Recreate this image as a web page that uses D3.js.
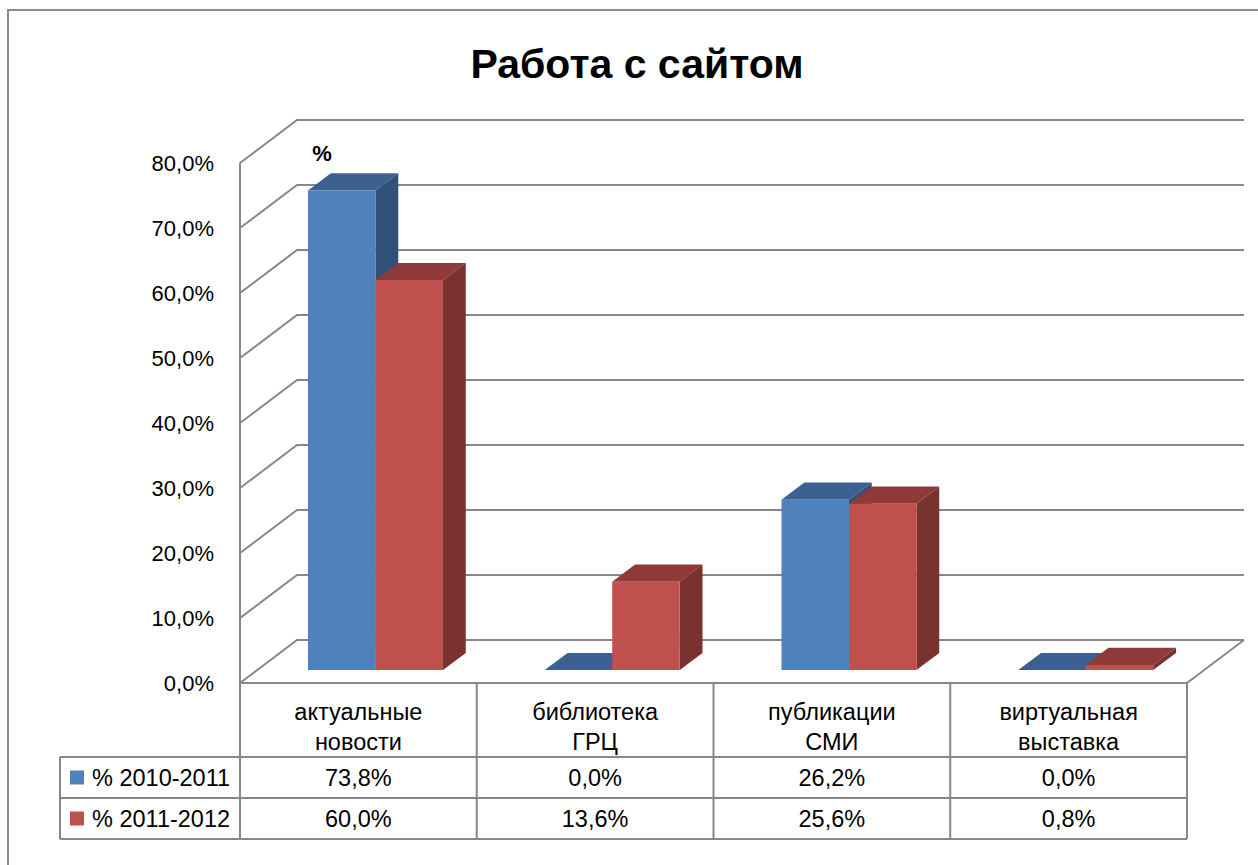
<!DOCTYPE html>
<html>
<head>
<meta charset="utf-8">
<script src="https://cdn.jsdelivr.net/npm/d3@7"></script>
<style>
  html, body { margin: 0; padding: 0; background: #fff; }
  svg { display: block; font-family: "Liberation Sans", Arial, sans-serif; }
</style>
</head>
<body>
<svg id="chart" width="1258" height="865"></svg>
<script>
// ---- data ----
const title = "Работа с сайтом";
const axisTitle = "%";
const categories = ["актуальные новости", "библиотека ГРЦ", "публикации СМИ", "виртуальная выставка"];
const seriesNames = ["% 2010-2011", "% 2011-2012"];
const values2010 = [73.8, 0.0, 26.2, 0.0];
const values2011 = [60.0, 13.6, 25.6, 0.8];
const yTicks = [0, 10, 20, 30, 40, 50, 60, 70, 80];

// ---- layout ----
const svg = d3.select("#chart");
const X0 = 240, X1 = 1187, Y0 = 683;
const DX = 57, DY = -43;           // depth vector of the 3D box
const T0 = 0.30, T1 = 0.70;        // bar depth range
const gridColor = "#878787";
const colors = {
  front: ["#4F81BD", "#C0504D"],
  top:   ["#3C6190", "#8F3A38"],
  side:  ["#325179", "#7A3230"]
};
const fmt = v => d3.format(".1f")(v).replace(".", ",") + "%";

const y = d3.scaleLinear().domain([0, 80]).range([0, 520]);
const x = d3.scaleBand().domain(categories).range([X0, X1]);
const xs = d3.scaleBand().domain(seriesNames).range([0, x.bandwidth()]).paddingOuter(0.754);
const proj = (px, v, t) => [px + t * DX, Y0 - y(v) + t * DY];
const line = d3.line();

// outer border
svg.append("rect").attr("x", 8).attr("y", 10).attr("width", 1300).attr("height", 900)
  .attr("fill", "none").attr("stroke", "#8a8a8a").attr("stroke-width", 2);

// title
svg.append("text").attr("x", 637).attr("y", 78).attr("text-anchor", "middle")
  .attr("font-size", 41).attr("font-weight", "bold").attr("fill", "#000").text(title);

// grid: side wall diagonals and back wall lines
const grid = svg.append("g").attr("fill", "none").attr("stroke", gridColor).attr("stroke-width", 2);
yTicks.forEach(v => {
  grid.append("path").attr("d", line([proj(X0, v, 0), proj(X0, v, 1), proj(X1, v, 1)]));
});
// floor right edge
grid.append("path").attr("d", line([proj(X1, 0, 0), proj(X1, 0, 1)]));
// front vertical axis (continues down through table)
grid.append("path").attr("d", line([proj(X0, 80, 0), [X0, 839]]));

// y tick labels
svg.append("g").selectAll("text").data(yTicks).join("text")
  .attr("x", 214).attr("y", d => Y0 - y(d)).attr("dy", "0.36em")
  .attr("text-anchor", "end").attr("font-size", 22).attr("fill", "#000")
  .text(d => fmt(d));

// axis title
svg.append("text").attr("x", 322).attr("y", 161).attr("text-anchor", "middle")
  .attr("font-size", 22).attr("font-weight", "bold").text(axisTitle);

// bars
const seriesValues = [values2010, values2011];
const bars = svg.append("g");
categories.forEach((c, i) => {
  seriesNames.forEach((s, k) => {
    const v = seriesValues[k][i];
    const xa = x(c) + xs(s), xb = xa + xs.bandwidth();
    const g = bars.append("g");
    g.append("path").attr("fill", colors.top[k])
      .attr("d", line([proj(xa, v, T0), proj(xb, v, T0), proj(xb, v, T1), proj(xa, v, T1)]) + "Z");
    g.append("path").attr("fill", colors.side[k])
      .attr("d", line([proj(xb, 0, T0), proj(xb, 0, T1), proj(xb, v, T1), proj(xb, v, T0)]) + "Z");
    g.append("path").attr("fill", colors.front[k])
      .attr("d", line([proj(xa, 0, T0), proj(xb, 0, T0), proj(xb, v, T0), proj(xa, v, T0)]) + "Z");
  });
});

// data table
const rowY = [683, 757, 798, 839];
const LX = 60;
const tbl = svg.append("g").attr("stroke", gridColor).attr("stroke-width", 2).attr("fill", "none");
tbl.append("path").attr("d", line([[X0, rowY[0]], [X1, rowY[0]]]));
[1, 2, 3].forEach(r => tbl.append("path").attr("d", line([[LX, rowY[r]], [X1, rowY[r]]])));
tbl.append("path").attr("d", line([[LX, rowY[1]], [LX, rowY[3]]]));
categories.forEach(c => {
  tbl.append("path").attr("d", line([[x(c) + x.bandwidth(), rowY[0]], [x(c) + x.bandwidth(), rowY[3]]]));
});

// category header labels
const hdr = svg.append("g").attr("font-size", 23.5).attr("text-anchor", "middle").attr("fill", "#000");
categories.forEach(c => {
  const parts = c.split(" ");
  const cx = x(c) + x.bandwidth() / 2;
  parts.forEach((p, j) => {
    hdr.append("text").attr("x", cx).attr("y", 712 + j * 30).attr("dy", "0.36em").text(p);
  });
});

// series rows
seriesNames.forEach((s, k) => {
  const cy = (rowY[k + 1] + rowY[k + 2]) / 2;
  svg.append("rect").attr("x", 70).attr("y", cy - 7).attr("width", 14).attr("height", 14)
    .attr("fill", colors.front[k]);
  svg.append("text").attr("x", 92).attr("y", cy).attr("dy", "0.36em")
    .attr("font-size", 23.5).attr("fill", "#000").text(s);
  categories.forEach((c, i) => {
    svg.append("text").attr("x", x(c) + x.bandwidth() / 2).attr("y", cy).attr("dy", "0.36em")
      .attr("text-anchor", "middle").attr("font-size", 23.5).attr("fill", "#000")
      .text(fmt(seriesValues[k][i]));
  });
});
</script>
</body>
</html>
